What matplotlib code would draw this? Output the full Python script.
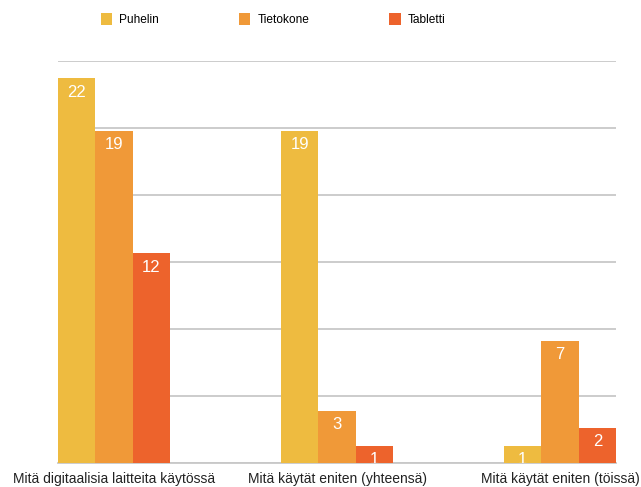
import matplotlib.pyplot as plt
import numpy as np

categories = ["Mitä digitaalisia laitteita käytössä",
              "Mitä käytät eniten (yhteensä)",
              "Mitä käytät eniten (töissä)"]
series = ["Puhelin", "Tietokone", "Tabletti"]
puhelin = [22, 19, 1]
tietokone = [19, 3, 7]
tabletti = [12, 1, 2]
values = [puhelin, tietokone, tabletti]
colors = ["#EEBB40", "#F09938", "#ED632C"]

plt.rcParams['font.family'] = ['Liberation Sans', 'DejaVu Sans']

fig = plt.figure(figsize=(6.41, 4.87), dpi=100)
ax = fig.add_axes([58 / 641, 1 - 463 / 487, 558 / 641, 402 / 487])

x = np.arange(len(categories))
w = 0.1673
ymax = 23

for i, (name, vals, c) in enumerate(zip(series, values, colors)):
    bars = ax.bar(x + (i - 1) * w, vals, w, color=c, label=name, zorder=3)
    for b, v in zip(bars, vals):
        ax.annotate(str(v), (b.get_x() + b.get_width() / 2, v),
                    xytext=(0, -10), textcoords="offset points",
                    ha="center", va="center", color="white",
                    fontsize=12, zorder=4, clip_on=True)

ax.set_xlim(-0.251, 2.251)
ax.set_ylim(0, ymax)
ax.set_yticks(np.linspace(0, ymax, 7))
ax.yaxis.grid(True, color="#C8C8C8", linewidth=1.3, zorder=0)
ax.tick_params(left=False, labelleft=False, bottom=False)
ax.set_xticks(x)
ax.set_xticklabels(categories, fontsize=10, color="#222222")
ax.tick_params(axis="x", pad=3)
for s in ["top", "right", "left"]:
    ax.spines[s].set_visible(False)
ax.spines["bottom"].set_color("#C8C8C8")
ax.spines["bottom"].set_linewidth(1.3)

fig.legend(loc="upper center", bbox_to_anchor=(273 / 641, 1 - 2 / 487),
           ncol=3, frameon=False, fontsize=8.6, handlelength=0.95,
           handleheight=1.2, handletextpad=0.6, columnspacing=6.7)

fig.savefig("out.png", dpi=100)
